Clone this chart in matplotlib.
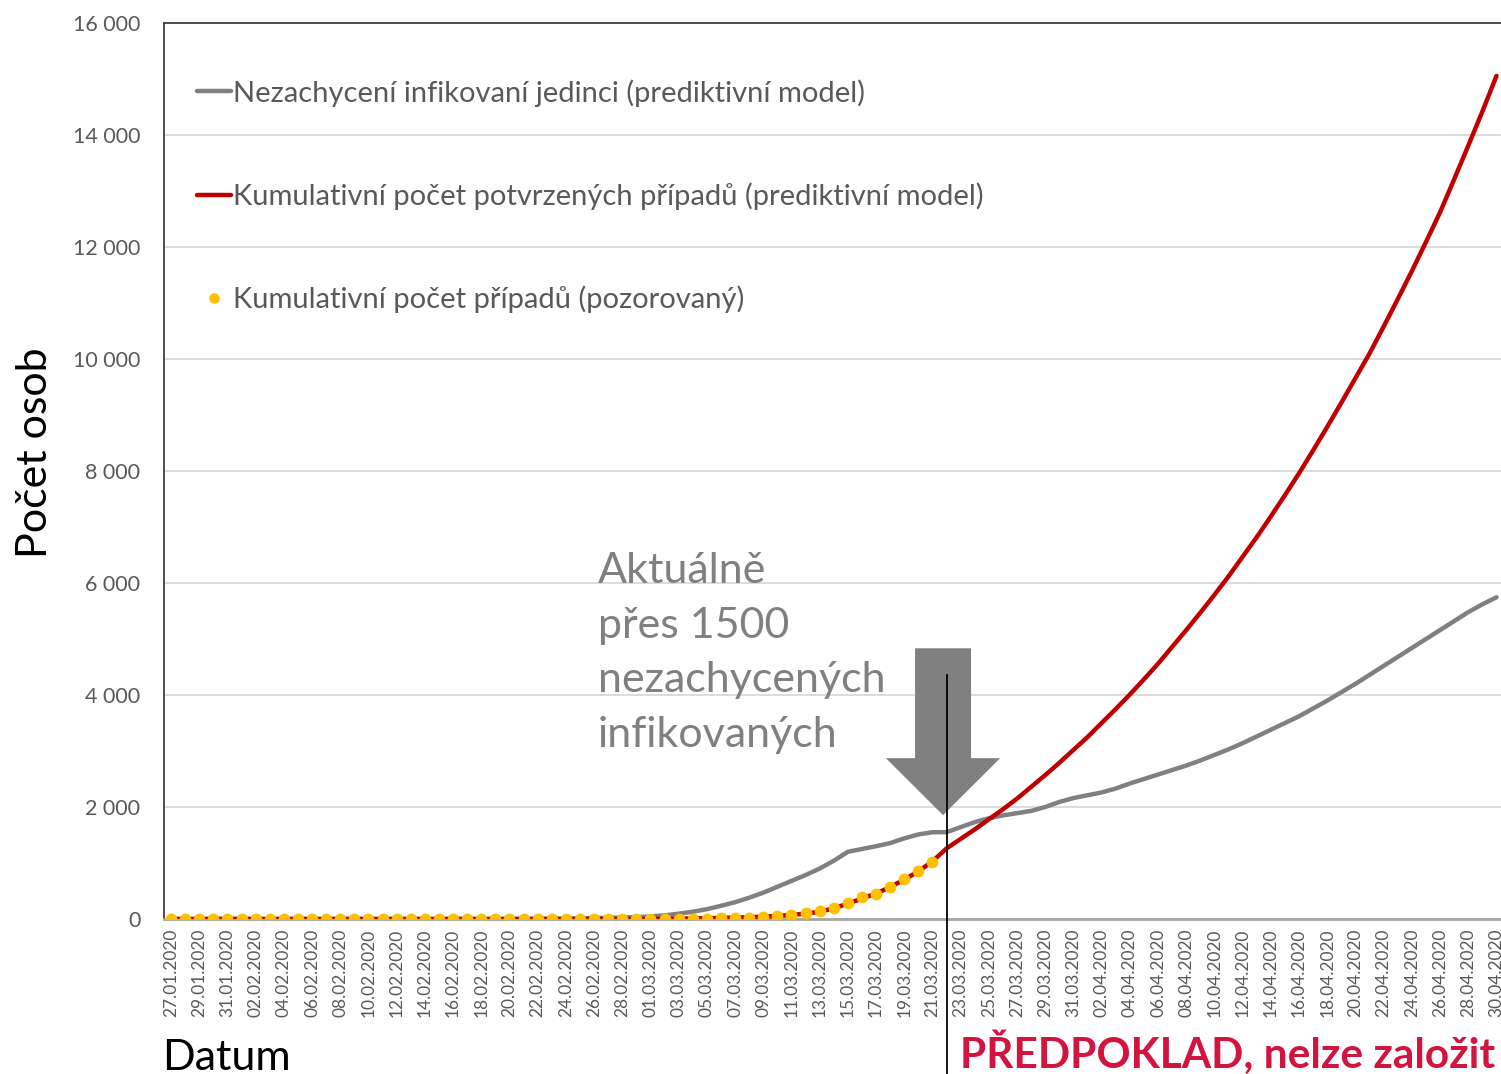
import matplotlib
matplotlib.use("Agg")
import matplotlib.pyplot as plt
import numpy as np
import pandas as pd
from matplotlib.ticker import FuncFormatter

plt.rcParams['font.family'] = ['Lato', 'DejaVu Sans']

# daily categories 27.01.2020 .. 30.04.2020
dates = pd.date_range('2020-01-27', '2020-04-30').strftime('%d.%m.%Y').tolist()

# undetected infected (predictive model)
unreported_model = [0] * 26 + [
    3, 5, 8, 12, 16, 20, 26, 34, 45, 65,
    95, 130, 175, 235, 300, 380, 470, 575, 680, 785,
    900, 1040, 1200, 1250, 1300, 1355, 1440, 1510, 1550, 1550,
    1640, 1730, 1800, 1850, 1890, 1930, 2000, 2090, 2160, 2210,
    2260, 2330, 2420, 2500, 2580, 2660, 2740, 2830, 2930, 3030,
    3140, 3260, 3380, 3500, 3620, 3760, 3900, 4050, 4200, 4360,
    4520, 4680, 4840, 5000, 5160, 5320, 5480, 5620, 5745,
]

# cumulative confirmed cases (predictive model)
confirmed_model = [0] * 34 + [
    3, 5, 7, 10, 14, 19, 25, 32, 42, 55,
    72, 95, 130, 190, 275, 365, 455, 570, 705, 850,
    1030, 1260, 1430, 1600, 1780, 1960, 2150, 2360, 2570, 2790,
    3020, 3250, 3500, 3750, 4010, 4280, 4560, 4860, 5160, 5470,
    5790, 6120, 6470, 6820, 7190, 7570, 7960, 8370, 8790, 9220,
    9660, 10100, 10580, 11070, 11570, 12090, 12620, 13210, 13810, 14420,
    15055,
]

# cumulative cases (observed) up to 21.03.2020
observed = [0] * 34 + [
    3, 3, 5, 5, 8, 15, 20, 26, 38, 60,
    80, 100, 135, 200, 290, 385, 455, 575, 720, 850,
    1010,
]

labels = [
    'Nezachycení infikovaní jedinci (prediktivní model)',
    'Kumulativní počet potvrzených případů (prediktivní model)',
    'Kumulativní počet případů (pozorovaný)',
]

GRAY = '#808080'
RED = '#C00000'
YELLOW = '#FFC000'
TXT = '#595959'


def main():
    fig = plt.figure(figsize=(15.01, 10.74), dpi=100)
    ax = fig.add_axes([164 / 1501, 155 / 1074, 1 - 164 / 1501, 896 / 1074])

    x = np.arange(len(dates))
    ax.plot(x, unreported_model, color=GRAY, lw=3.2, label=labels[0],
            solid_capstyle='round', zorder=3)
    ax.plot(x, confirmed_model, color=RED, lw=3.2, label=labels[1],
            solid_capstyle='round', zorder=4)
    ax.plot(x[:len(observed)], observed, ls='none', marker='o', ms=8.5,
            mec='none', color=YELLOW, label=labels[2], zorder=5)

    ax.set_xlim(-0.5, 94.32)
    ax.set_ylim(0, 16000)
    ax.set_yticks(np.arange(0, 16001, 2000))
    ax.yaxis.set_major_formatter(FuncFormatter(lambda v, p: f'{int(v):,}'.replace(',', ' ')))
    ax.set_xticks(x[::2])
    ax.set_xticklabels(dates[::2], rotation=90, fontsize=12.5, color=TXT)
    ax.tick_params(axis='x', length=0, pad=7)
    ax.tick_params(axis='y', length=0, pad=17, labelsize=15.5, labelcolor=TXT)
    ax.grid(axis='y', color='#D9D9D9', lw=1.3)
    ax.set_axisbelow(True)

    ax.spines['right'].set_visible(False)
    ax.spines['left'].set_color('#404040')
    ax.spines['top'].set_color('#404040')
    ax.spines['left'].set_linewidth(1.3)
    ax.spines['top'].set_linewidth(1.3)
    ax.spines['bottom'].set_color('#A6A6A6')
    ax.spines['bottom'].set_linewidth(2)

    leg = ax.legend(loc='upper left', bbox_to_anchor=(0.0247, 0.9375), frameon=False,
                    fontsize=21, handlelength=1.17, handletextpad=0.05,
                    labelspacing=2.6, borderpad=0, borderaxespad=0, markerscale=0.9)
    for t in leg.get_texts():
        t.set_color(TXT)

    # big grey arrow pointing to the current state
    cx, shaft_w, head_w = 54.75, 3.97, 8.1
    top_v, neck_v, tip_v = 4834, 2872, 1855
    ax.fill([cx - shaft_w / 2, cx + shaft_w / 2, cx + shaft_w / 2, cx + head_w / 2, cx,
             cx - head_w / 2, cx - shaft_w / 2],
            [top_v, top_v, neck_v, neck_v, tip_v, neck_v, neck_v],
            color=GRAY, lw=0, zorder=6)
    # divider line at 22.03.2020
    ax.plot([55, 55], [4352, -2800], color='black', lw=1.3, clip_on=False, zorder=7)

    ax.text(598, 1074 - 552, 'Aktuálně\npřes 1500\nnezachycených\ninfikovaných',
            transform=None, fontsize=31, color=GRAY, va='top', ha='left', linespacing=1.54)

    fig.text(35 / 1501, (1074 - 453) / 1074, 'Počet osob', rotation=90,
             fontsize=31, ha='center', va='center', color='black')
    fig.text(162 / 1501, 4 / 1074, 'Datum', fontsize=31, ha='left', va='baseline',
             color='black')
    fig.text(1495 / 1501, 6 / 1074, 'PŘEDPOKLAD, nelze založit', fontsize=30.5,
             fontweight='bold', ha='right', va='baseline', color='#D2143F')

    fig.savefig('out.png', dpi=100)


if __name__ == '__main__':
    main()
